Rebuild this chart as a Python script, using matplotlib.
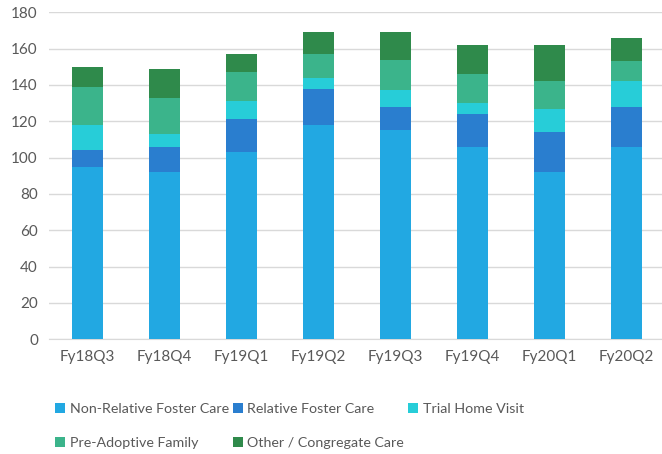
import numpy as np
import matplotlib.pyplot as plt

quarters = ['Fy18Q3', 'Fy18Q4', 'Fy19Q1', 'Fy19Q2', 'Fy19Q3', 'Fy19Q4', 'Fy20Q1', 'Fy20Q2']
non_relative = [95, 92, 103, 118, 115, 106, 92, 106]
relative = [9, 14, 18, 20, 13, 18, 22, 22]
trial_home = [14, 7, 10, 6, 9, 6, 13, 14]
pre_adoptive = [21, 20, 16, 13, 17, 16, 15, 11]
other = [11, 16, 10, 12, 15, 16, 20, 13]

series = [
    ('Non-Relative Foster Care', non_relative, '#22a8e2'),
    ('Relative Foster Care', relative, '#2a7ecf'),
    ('Trial Home Visit', trial_home, '#27cdd8'),
    ('Pre-Adoptive Family', pre_adoptive, '#3bb48b'),
    ('Other / Congregate Care', other, '#2f8a4b'),
]

plt.rcParams['font.family'] = ['Lato', 'DejaVu Sans']

fig = plt.figure(figsize=(6.62, 4.54), dpi=100)
ax = fig.add_axes([0.074, 0.2526, 0.93, 0.7204])

x = np.arange(len(quarters))
bottom = np.zeros(len(quarters))
handles = []
for name, vals, col in series:
    b = ax.bar(x, vals, 0.4, bottom=bottom, color=col, label=name, zorder=3)
    handles.append(b)
    bottom += np.array(vals)

ax.set_xlim(-0.5, 7.5)
ax.set_ylim(0, 180)
ax.set_yticks(range(0, 181, 20))
ax.set_xticks(x)
ax.set_xticklabels(quarters)
ax.grid(axis='y', color='#d9d9d9', linewidth=1, zorder=0)
for s in ['top', 'right', 'left']:
    ax.spines[s].set_visible(False)
ax.spines['bottom'].set_color('#d9d9d9')
ax.tick_params(length=0, labelsize=11, colors='#595959', pad=8)

# legend fills row by row in the reference
order = [0, 3, 1, 4, 2]
fig.legend(handles=[handles[i] for i in order], loc='upper left', bbox_to_anchor=(0.075, 0.126),
           ncol=3, frameon=False, labelcolor='#595959', fontsize=10.3,
           handlelength=0.7, handleheight=0.7, handletextpad=0.3,
           columnspacing=0.3, labelspacing=1.55, borderaxespad=0)

fig.savefig('out.png', dpi=100)
